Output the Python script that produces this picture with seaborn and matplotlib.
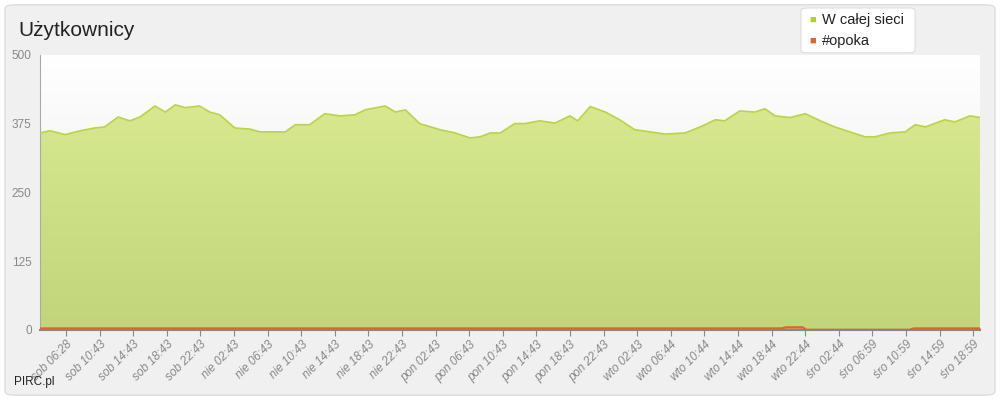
import numpy as np
import pandas as pd
import matplotlib
matplotlib.use('Agg')
import matplotlib.pyplot as plt
import seaborn as sns
from matplotlib.patches import FancyBboxPatch

# hours since start of the window
hours = [0.0, 1.2, 3.0, 4.8, 6.5, 7.7, 9.3, 10.7, 11.9, 13.7, 14.9, 16.1, 17.3, 19.0,
         20.2, 21.4, 23.2, 25.0, 26.2, 29.2, 30.4, 32.1, 33.9, 35.7, 37.5, 38.7,
         41.1, 42.3, 43.5, 45.2, 47.6, 49.4, 51.2, 52.4, 53.6, 54.8, 56.5, 57.7,
         59.5, 61.3, 63.1, 64.0, 65.5, 67.3, 69.0, 70.8, 72.6, 74.4, 76.8, 78.6,
         80.4, 81.5, 83.3, 85.1, 86.3, 87.5, 89.3, 91.1, 92.9, 94.6, 96.4, 98.2,
         99.4, 101.2, 103.0, 104.2, 105.4, 107.7, 108.9, 110.7, 111.9]
whole_network = [358, 362, 355, 362, 367, 369, 387, 380, 387, 407, 396, 409, 404, 407,
                 396, 391, 367, 365, 360, 360, 373, 373, 393, 389, 391, 400,
                 407, 396, 400, 375, 364, 358, 349, 351, 358, 358, 375, 375,
                 380, 376, 389, 380, 406, 396, 382, 364, 360, 356, 358, 369,
                 382, 380, 398, 396, 402, 389, 386, 393, 380, 369, 360, 351,
                 351, 358, 360, 373, 369, 382, 378, 389, 386]
opoka_hours = [0.0, 88.3, 88.8, 90.8, 91.2, 103.5, 104.0, 111.9]
opoka = [3, 3, 5, 5, 0.5, 0.5, 3, 3]

tick_hours = [3.1 + 4 * k for k in range(28)]
tick_labels = ['sob 06:28', 'sob 10:43', 'sob 14:43', 'sob 18:43', 'sob 22:43',
               'nie 02:43', 'nie 06:43', 'nie 10:43', 'nie 14:43', 'nie 18:43', 'nie 22:43',
               'pon 02:43', 'pon 06:43', 'pon 10:43', 'pon 14:43', 'pon 18:43', 'pon 22:43',
               'wto 02:43', 'wto 06:44', 'wto 10:44', 'wto 14:44', 'wto 18:44', 'wto 22:44',
               'śro 02:44', 'śro 06:59', 'śro 10:59', 'śro 14:59', 'śro 18:59']

sns.set_style('white')
plt.rcParams['font.family'] = ['Liberation Sans', 'DejaVu Sans']

df = pd.DataFrame({'h': hours, 'users': whole_network})
df_op = pd.DataFrame({'h': opoka_hours, 'users': opoka})

fig = plt.figure(figsize=(10, 4), dpi=100)
fig.patch.set_facecolor('white')
fig.patches.append(FancyBboxPatch((0.005, 0.012), 0.99, 0.976, boxstyle='round,pad=0,rounding_size=0.01',
                                  transform=fig.transFigure, facecolor='#f0f0f0',
                                  edgecolor='#dddddd', lw=1, zorder=-10))
ax = fig.add_axes([0.04, 0.175, 0.94, 0.688])
ax.set_xlim(0, hours[-1])
ax.set_ylim(0, 500)

# background gradient of plot area: white at top, light grey lower down
bg = np.linspace(0, 1, 100).reshape(-1, 1)
ax.imshow(bg, extent=[0, hours[-1], 0, 500], aspect='auto', origin='lower',
          cmap=matplotlib.colors.LinearSegmentedColormap.from_list('bg', ['#e8e8e8', '#ffffff']),
          zorder=0)

# gradient fill under green line
poly = ax.fill_between(df['h'], df['users'], 0, color='none', zorder=1)
grad = np.linspace(0, 1, 100).reshape(-1, 1)
img = ax.imshow(grad, extent=[0, hours[-1], 0, 420], aspect='auto', origin='lower',
                cmap=matplotlib.colors.LinearSegmentedColormap.from_list('g', ['#c2d57a', '#d8e98f']),
                zorder=1)
img.set_clip_path(poly.get_paths()[0], transform=ax.transData)
sns.lineplot(data=df, x='h', y='users', ax=ax, color='#b8d44a', lw=1.2, zorder=3)
ax.fill_between(df_op['h'], df_op['users'], 0, color='#e08050', alpha=0.5, zorder=2)
sns.lineplot(data=df_op, x='h', y='users', ax=ax, color='#e0632a', lw=1.5, zorder=3)

ax.set_yticks([0, 125, 250, 375, 500])
ax.set_xticks(tick_hours)
ax.set_xticklabels(tick_labels, rotation=45, ha='right', fontsize=8.5, color='#888888',
                   rotation_mode='anchor', fontstyle='italic')
ax.tick_params(axis='y', labelsize=8.5, labelcolor='#888888', length=0, pad=6)
ax.tick_params(axis='x', length=4, color='#888888', direction='out', bottom=True, pad=2)
ax.set_xlabel('')
ax.set_ylabel('')
for s in ['top', 'right']:
    ax.spines[s].set_visible(False)
ax.spines['left'].set_color('#aaaaaa')
ax.spines['bottom'].set_color('#888888')
ax.spines['bottom'].set_linewidth(1.5)
ax.set_axisbelow(False)

fig.text(0.018, 0.925, 'Użytkownicy', fontsize=15, color='#222222', va='center')
fig.text(0.014, 0.045, 'PIRC.pl', fontsize=8.5, color='#222222', va='center')

# legend box
fig.patches.append(FancyBboxPatch((0.801, 0.868), 0.114, 0.112, boxstyle='round,pad=0,rounding_size=0.006',
                                  transform=fig.transFigure, facecolor='white',
                                  edgecolor='#dddddd', lw=0.8, zorder=5))
fig.text(0.809, 0.951, '■', fontsize=8, color='#b0cf3a', va='center', zorder=6)
fig.text(0.822, 0.951, 'W całej sieci', fontsize=10.5, color='#222222', va='center', zorder=6)
fig.text(0.809, 0.898, '■', fontsize=8, color='#e0632a', va='center', zorder=6)
fig.text(0.822, 0.898, '#opoka', fontsize=10.5, color='#222222', va='center', zorder=6)

fig.savefig('out.png', dpi=100)
